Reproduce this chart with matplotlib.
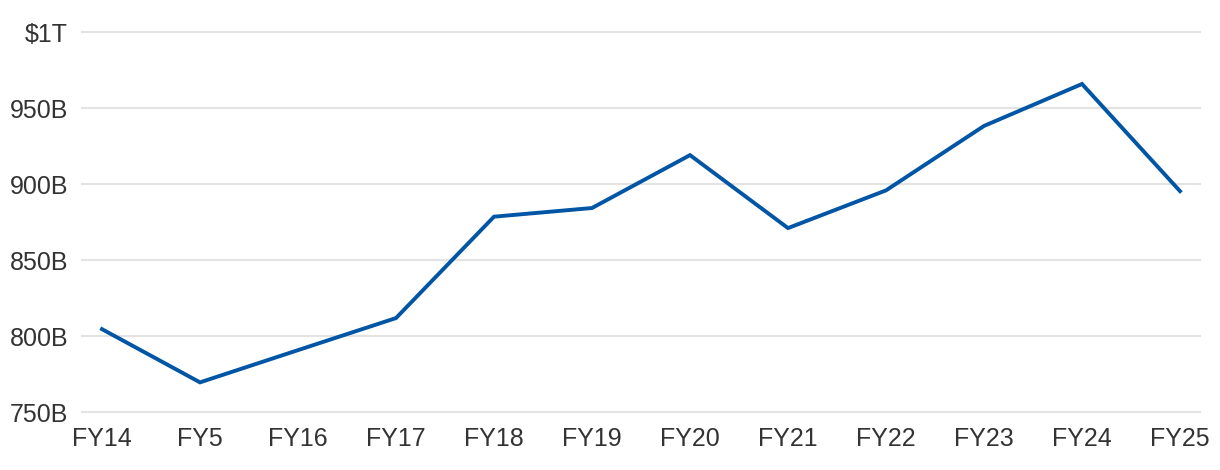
import matplotlib.pyplot as plt
from matplotlib.ticker import FuncFormatter

plt.rcParams['font.family'] = ['Liberation Sans', 'DejaVu Sans']

years = ["FY14", "FY5", "FY16", "FY17", "FY18", "FY19", "FY20", "FY21", "FY22", "FY23", "FY24", "FY25"]
spending = [804.5, 769.5, 790.7, 811.8, 878.5, 884.2, 919.0, 871.0, 895.8, 938.2, 965.8, 895.3]
y_ticks = [750, 800, 850, 900, 950, 1000]


def fmt(v, pos):
    if v >= 1000:
        return "$1T"
    return "{:.0f}B".format(v)


fig = plt.figure(figsize=(12.2, 4.7), dpi=100)
ax = fig.add_axes([82 / 1220, 58 / 470, 1118 / 1220, 380 / 470])

x = list(range(len(years)))
ax.plot(x, spending, color="#0055a5", lw=2.8, solid_joinstyle="miter", zorder=3)

ax.set_xlim(-0.204, len(years) - 1 + 0.204)
ax.set_ylim(750, 1000)
ax.set_yticks(y_ticks)
ax.yaxis.set_major_formatter(FuncFormatter(fmt))
ax.set_xticks(x)
ax.set_xticklabels(years)

ax.grid(axis="y", color="#e3e3e3", lw=1.5, clip_on=False)
ax.set_axisbelow(True)
for s in ax.spines.values():
    s.set_visible(False)
ax.tick_params(axis="both", length=0, labelsize=18, colors="#333333")
ax.tick_params(axis="y", pad=10)
ax.tick_params(axis="x", pad=11)

fig.savefig("out.png", dpi=100)
